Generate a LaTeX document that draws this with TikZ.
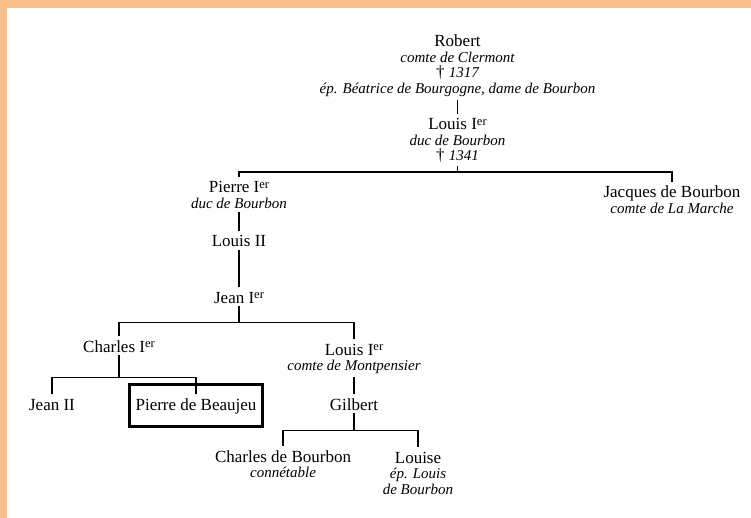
\documentclass[tikz,border=0pt]{standalone}
\usepackage{fontspec}
\setmainfont{Liberation Serif}
\usetikzlibrary{calc,fit}

\definecolor{peach}{RGB}{249,192,142}
\newcommand{\up}{\rule{0pt}{13pt}}
\newcommand{\ital}[1]{{\fontsize{15}{15.5}\selectfont\itshape #1}}
\newcommand{\er}{\raisebox{4.5pt}{\fontsize{12.5}{12.5}\selectfont er}}

\begin{document}
\begin{tikzpicture}[x=1pt,y=-1pt,every node/.style={outer sep=3pt,inner sep=0pt}]
\tikzset{
    person/.style = {anchor=north,align=center,font=\fontsize{17}{15.5}\selectfont,
                        execute at begin node={\lineskiplimit=-20pt\relax}},
    link/.style   = {line width=1.1pt},
    hilite/.style = {draw,line width=3pt,inner xsep=3.5pt,inner ysep=10pt},
    frame/.style  = {fill=peach,draw=none}
}

\useasboundingbox (0,0) rectangle (751,518);
\fill[white] (0,0) rectangle (751,518);
\fill[frame] (0,0) rectangle (751,8);
\fill[frame] (0,0) rectangle (7,518);

%% generation 1 and 2
\node (robert) [person] at (457.5,31) {\up Robert\\ \ital{comte de Clermont}\\ † \ital{1317}\\
        \ital{ép. Béatrice de Bourgogne, dame de Bourbon}};
\node (louisI) [person] at (457.5,114) {\up Louis I\er\\ \ital{duc de Bourbon}\\ † \ital{1341}};

%% generation 3
\node (pierreI) [person] at (239,177) {\up Pierre I\er\\ \ital{duc de Bourbon}};
\node (jacques) [person] at (672,182) {\up Jacques de Bourbon\\ \ital{comte de La Marche}};

\node (louisII) [person] at (239,231) {\up Louis II};
\node (jeanI) [person] at (239,287) {\up Jean I\er};

%% sons of Jean
\node (charlesI) [person] at (119,336) {\up Charles I\er};
\node (louisM) [person] at (354,339) {\up Louis I\er\\ \ital{comte de Montpensier}};

\node (jeanII) [person] at (52,394) {\up Jean II};
\node (pierreB) [person] at (196,394) {\up Pierre de Beaujeu};
\node (box) [hilite,fit=(pierreB)] {};
\node (gilbert) [person] at (354,394) {\up Gilbert};

\node (charlesB) [person] at (283,446) {\up Charles de Bourbon\\ \ital{connétable}};
\node (louise) [person] at (418,447) {\up Louise\\ \ital{ép. Louis}\\ \ital{de Bourbon}};

%% the lines
\draw [link] (robert.south) -- (louisI.north);
\draw [link] (louisI.south) -- ++(0,6) coordinate (b1);
\draw [link] (pierreI.north) |- (b1) -| (jacques.north);

\draw [link] (pierreI.south) -- (louisII.north);
\draw [link] (louisII.south) -- (jeanI.north);

\draw [link] (jeanI.south) -- ++(0,16) coordinate (b2);
\draw [link] (charlesI.north) |- (b2) -| (louisM.north);

\draw [link] (charlesI.south) -- ++(0,22) coordinate (b3);
\draw [link] (jeanII.north) |- (b3) -| (pierreB.north);

\draw [link] (louisM.south) -- (gilbert.north);
\draw [link] (gilbert.south) -- ++(0,17) coordinate (b4);
\draw [link] (charlesB.north) |- (b4) -| (louise.north);

\end{tikzpicture}
\end{document}
